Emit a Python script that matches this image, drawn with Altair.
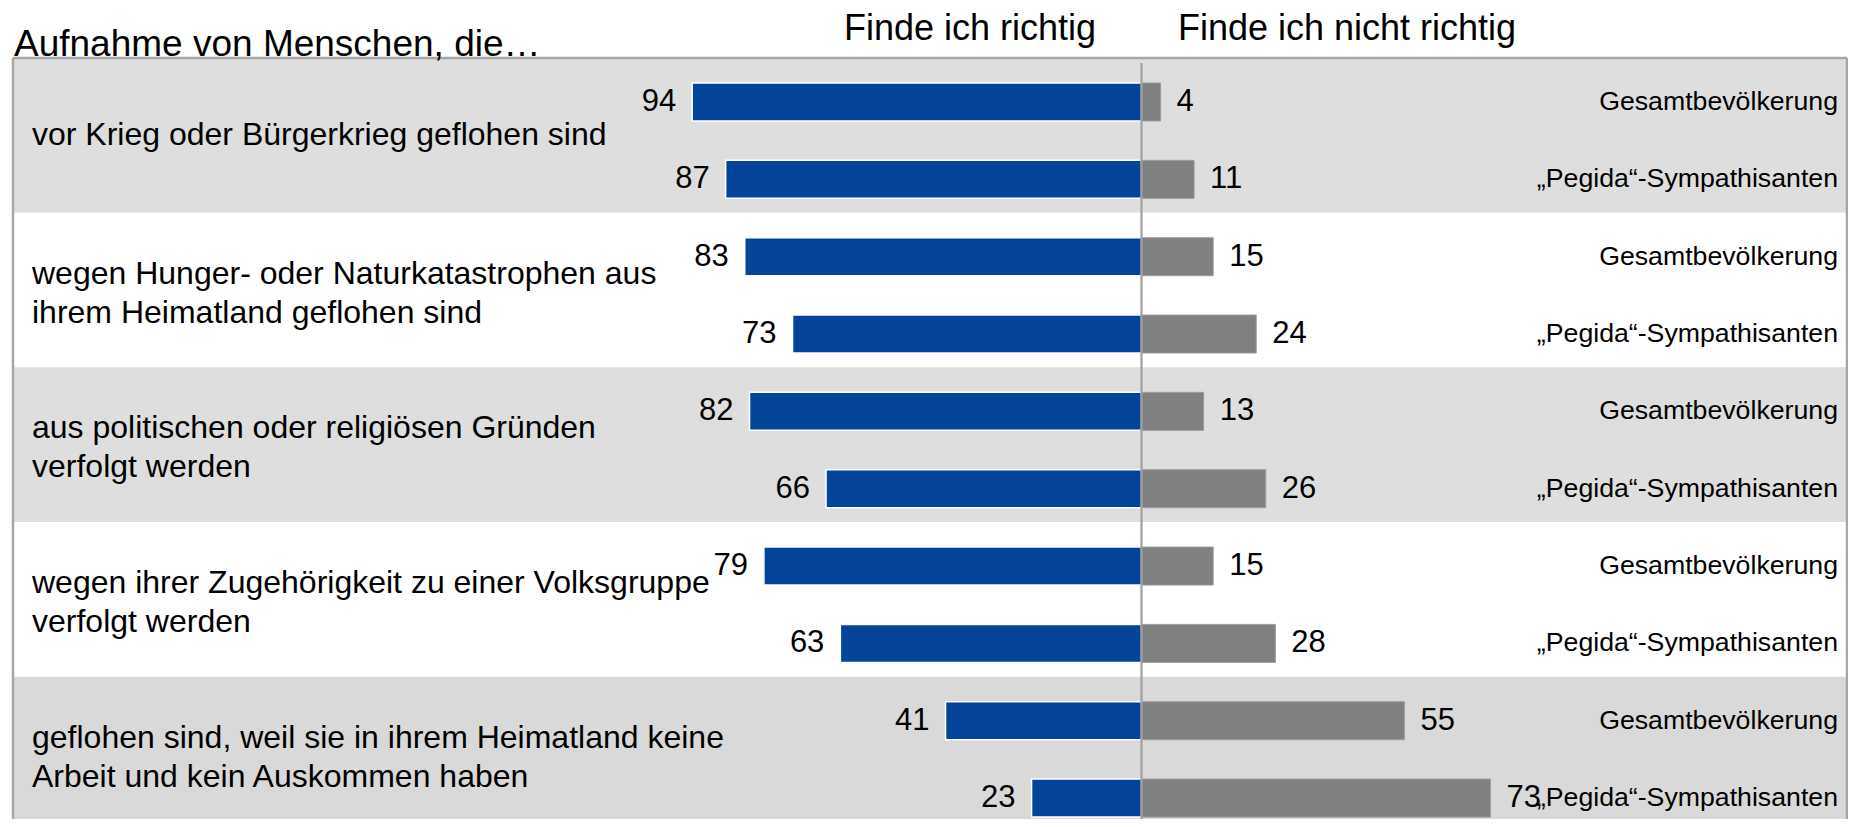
import altair as alt
import pandas as pd

categories = [
    "vor Krieg oder Bürgerkrieg geflohen sind",
    "wegen Hunger- oder Naturkatastrophen aus\nihrem Heimatland geflohen sind",
    "aus politischen oder religiösen Gründen\nverfolgt werden",
    "wegen ihrer Zugehörigkeit zu einer Volksgruppe\nverfolgt werden",
    "geflohen sind, weil sie in ihrem Heimatland keine\nArbeit und kein Auskommen haben",
]
groups = ["Gesamtbevölkerung", "„Pegida“-Sympathisanten"]
richtig_gesamt = [94, 83, 82, 79, 41]
richtig_pegida = [87, 73, 66, 63, 23]
nicht_gesamt = [4, 15, 13, 15, 55]
nicht_pegida = [11, 24, 26, 28, 73]

title_text = "Aufnahme von Menschen, die…"
header_left = "Finde ich richtig"
header_right = "Finde ich nicht richtig"

FONT = "Liberation Sans"
W, H = 1840, 811
ZERO_PX = 1133.5
PX_PER_UNIT = 4.78
XMIN = -ZERO_PX / PX_PER_UNIT
XMAX = (W - ZERO_PX) / PX_PER_UNIT
SLOT_PX = 77.15
FIRST_PX = 94.0
YMIN = -FIRST_PX / SLOT_PX
YMAX = (H - FIRST_PX) / SLOT_PX
BAND = 2.005
BAND_TOP0 = -0.5704
HALF = 0.2463
LINE_SHIFT = 16.5 / SLOT_PX

rows = []
for k, cat in enumerate(categories):
    for g, (r, n) in enumerate([(richtig_gesamt[k], nicht_gesamt[k]),
                                 (richtig_pegida[k], nicht_pegida[k])]):
        s = BAND * k + g * (BAND / 2)
        rows.append(dict(cat=cat, group=groups[g], s=s, s0=s - HALF, s1=s + HALF,
                         r=r, rneg=-r, n=n, zero=0))
df = pd.DataFrame(rows)

bands = pd.DataFrame([
    dict(k=k, y=BAND_TOP0 + BAND * k,
         y2=(BAND_TOP0 + BAND * (k + 1)) if k < 4 else YMAX,
         ymid=BAND_TOP0 + BAND * k + BAND / 2 - LINE_SHIFT * categories[k].count("\n"),
         fill=["#DEDEDE", "#FFFFFF", "#DEDEDE", "#FFFFFF", "#D9D9D9"][k],
         cat=categories[k])
    for k in range(5)
])

xs = alt.Scale(domain=[XMIN, XMAX], nice=False, zero=False)
ys = alt.Scale(domain=[YMIN, YMAX], nice=False, zero=False, reverse=True)
X = lambda f: alt.X(f, type="quantitative", scale=xs, axis=None)
Y = lambda f: alt.Y(f, type="quantitative", scale=ys, axis=None)

band_layer = alt.Chart(bands).mark_rect().encode(
    x=alt.value(5), x2=alt.value(W),
    y=Y("y"), y2=alt.Y2("y2"),
    color=alt.Color("fill:N", scale=None),
)

border = pd.DataFrame([dict(top=BAND_TOP0, bottom=YMAX)])
border_top = alt.Chart(border).mark_rule(color="#A6A6A6", strokeWidth=2.5).encode(
    x=alt.value(5), x2=alt.value(W - 1), y=Y("top"))
border_left = alt.Chart(border).mark_rule(color="#A6A6A6", strokeWidth=2.5).encode(
    x=alt.value(5), y=Y("top"), y2=alt.Y2("bottom"))
border_right = alt.Chart(border).mark_rule(color="#A6A6A6", strokeWidth=2.5).encode(
    x=alt.value(W - 1), y=Y("top"), y2=alt.Y2("bottom"))

center = pd.DataFrame([dict(x=0, top=-0.5055, bottom=YMAX)])
center_line = alt.Chart(center).mark_rule(color="#A0A0A0", strokeWidth=2.2).encode(
    x=X("x"), y=Y("top"), y2=alt.Y2("bottom"))

base = alt.Chart(df)
blue = base.mark_rect(color="#03449A", stroke="#FFFFFF", strokeWidth=1.5).encode(
    x=X("rneg"), x2=alt.X2("zero"), y=Y("s0"), y2=alt.Y2("s1"))
gray = base.mark_rect(color="#808080", stroke="#9C9C9C", strokeWidth=1).encode(
    x=X("zero"), x2=alt.X2("n"), y=Y("s0"), y2=alt.Y2("s1"))

blue_lbl = base.mark_text(align="right", baseline="middle", dx=-16, font=FONT,
                          fontSize=31, color="#000000").encode(
    x=X("rneg"), y=Y("s"), text="r:Q")
gray_lbl = base.mark_text(align="left", baseline="middle", dx=16, font=FONT,
                          fontSize=31, color="#000000").encode(
    x=X("n"), y=Y("s"), text="n:Q")

group_lbl = base.mark_text(align="right", baseline="middle", font=FONT,
                           fontSize=26.7, color="#000000").encode(
    x=alt.value(1830), y=Y("s"), text="group:N")

cat_lbl = alt.Chart(bands).mark_text(align="left", baseline="middle", font=FONT,
                                     fontSize=32, lineBreak="\n", lineHeight=39,
                                     color="#000000").encode(
    x=alt.value(24), y=Y("ymid"), text="cat:N")

title_lbl = alt.Chart(pd.DataFrame([dict(t=title_text)])).mark_text(
    align="left", baseline="middle", font=FONT, fontSize=37, color="#000000").encode(
    x=alt.value(6), y=alt.value(37), text="t:N")
hdr = pd.DataFrame([dict(t=header_left, px=962), dict(t=header_right, px=1339)])
hdr_lbl = alt.Chart(hdr).mark_text(
    align="center", baseline="middle", font=FONT, fontSize=36, color="#000000").encode(
    x=alt.X("px:Q", scale=None), y=alt.value(21), text="t:N")

chart = alt.layer(
    band_layer, border_top, border_left, border_right,
    blue, gray, center_line, blue_lbl, gray_lbl, group_lbl, cat_lbl,
    title_lbl, hdr_lbl,
).properties(
    width=W, height=H,
    autosize=alt.AutoSizeParams(type="none"),
    padding=0,
    background="#FFFFFF",
).configure_view(strokeWidth=0, stroke=None)

chart.save("out.html", embed_options={"renderer": "svg", "actions": False})
